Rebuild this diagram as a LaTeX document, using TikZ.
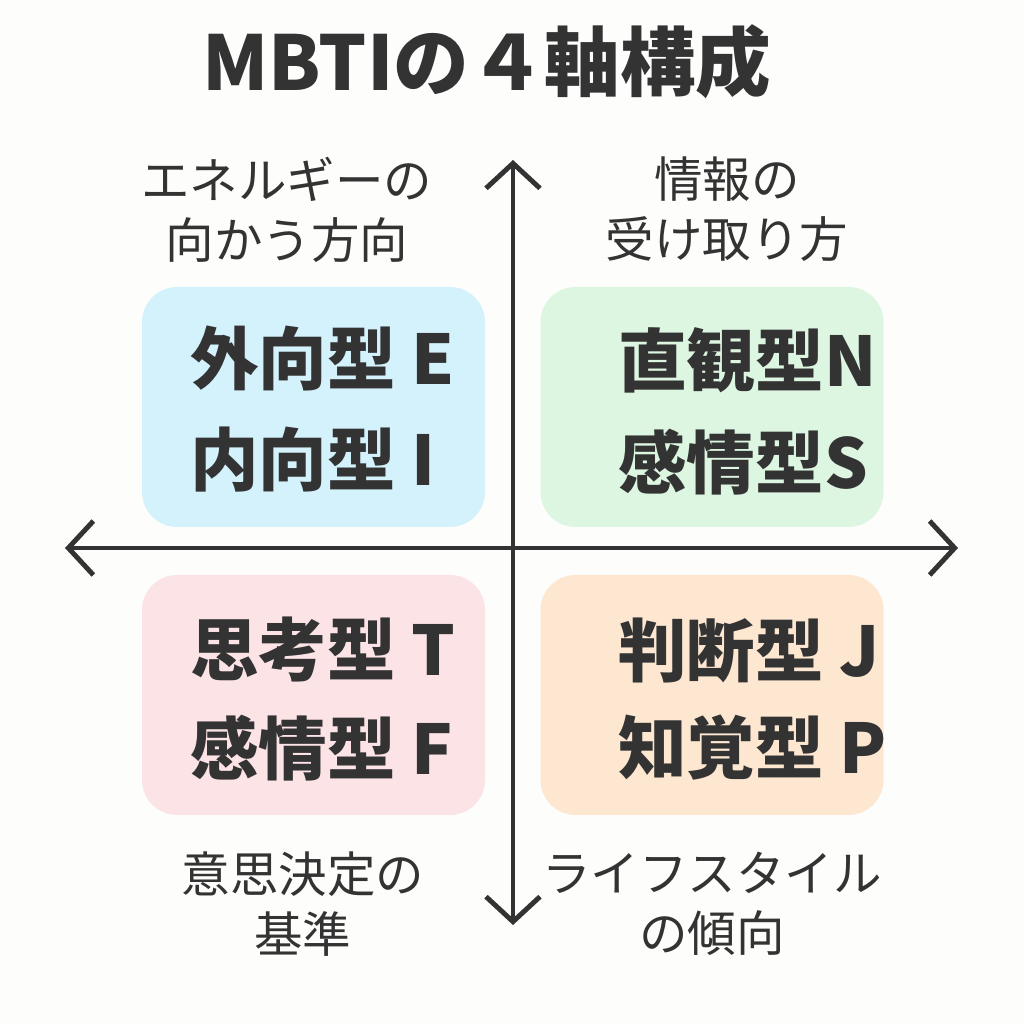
\documentclass[tikz,border=0pt]{standalone}
\usepackage{fontspec}
\setmainfont{Noto Sans CJK JP}
\usetikzlibrary{arrows.meta, positioning}
\definecolor{ink}{HTML}{333333}
\definecolor{paper}{HTML}{FDFDFB}
\definecolor{boxblue}{HTML}{D3F2FC}
\definecolor{boxgreen}{HTML}{DDF6E1}
\definecolor{boxpink}{HTML}{FCE3E6}
\definecolor{boxorange}{HTML}{FDE7D1}
\tikzset{
  quad/.style={rounded corners=10pt, minimum width=3.43cm, minimum height=2.40cm, inner sep=0pt},
  typetext/.style={text=ink, font=\fontsize{19.5}{24}\selectfont\bfseries, align=left},
  axislabel/.style={text=ink, font=\fontsize{13.8}{17}\selectfont, align=center},
  axis/.style={ink, line width=1.4pt, {Straight Barb[length=2.5mm,width=5.4mm]}-{Straight Barb[length=2.5mm,width=5.4mm]}},
}
\begin{document}
\begin{tikzpicture}
\fill[paper] (0,0) rectangle (10.24,10.24);
\useasboundingbox (0,0) rectangle (10.24,10.24);

% title
\node[text=ink, font=\fontsize{21.5}{24}\selectfont\bfseries] (title) at (4.87,9.62) {MBTIの４軸構成};

% quadrant boxes
\node[quad, fill=boxblue] (ei) at (3.135,6.17) {};
\node[quad, fill=boxgreen] (ns) at (7.12,6.17) {};
\node[quad, fill=boxpink] (tf) at (3.135,3.29) {};
\node[quad, fill=boxorange] (jp) at (7.12,3.29) {};

% axes
\coordinate (top) at (5.13,8.64);
\coordinate (bottom) at (5.13,0.99);
\coordinate (left) at (0.65,4.76);
\coordinate (right) at (9.58,4.76);
\draw[axis] (top) -- (bottom);
\draw[axis] (left) -- (right);

% box texts
\node[typetext, anchor=west] (e) at (1.78,6.66) {外向型 E};
\node[typetext, anchor=west] (i) at (1.78,5.64) {内向型 I};
\node[typetext, anchor=west] (n) at (6.06,6.64) {直観型N};
\node[typetext, anchor=west] (s) at (6.06,5.62) {感情型S};
\node[typetext, anchor=west] (t) at (1.78,3.74) {思考型 T};
\node[typetext, anchor=west] (f) at (1.78,2.76) {感情型 F};
\node[typetext, anchor=west] (j) at (6.06,3.74) {判断型 J};
\node[typetext, anchor=west] (p) at (6.06,2.76) {知覚型 P};

% axis labels
\node[axislabel] (energy) at (2.87,8.14) {エネルギーの\\向かう方向};
\node[axislabel] (info) at (7.27,8.15) {情報の\\受け取り方};
\node[axislabel] (decide) at (3.03,1.20) {意思決定の\\基準};
\node[axislabel] (life) at (7.12,1.20) {ライフスタイル\\の傾向};
\end{tikzpicture}
\end{document}
